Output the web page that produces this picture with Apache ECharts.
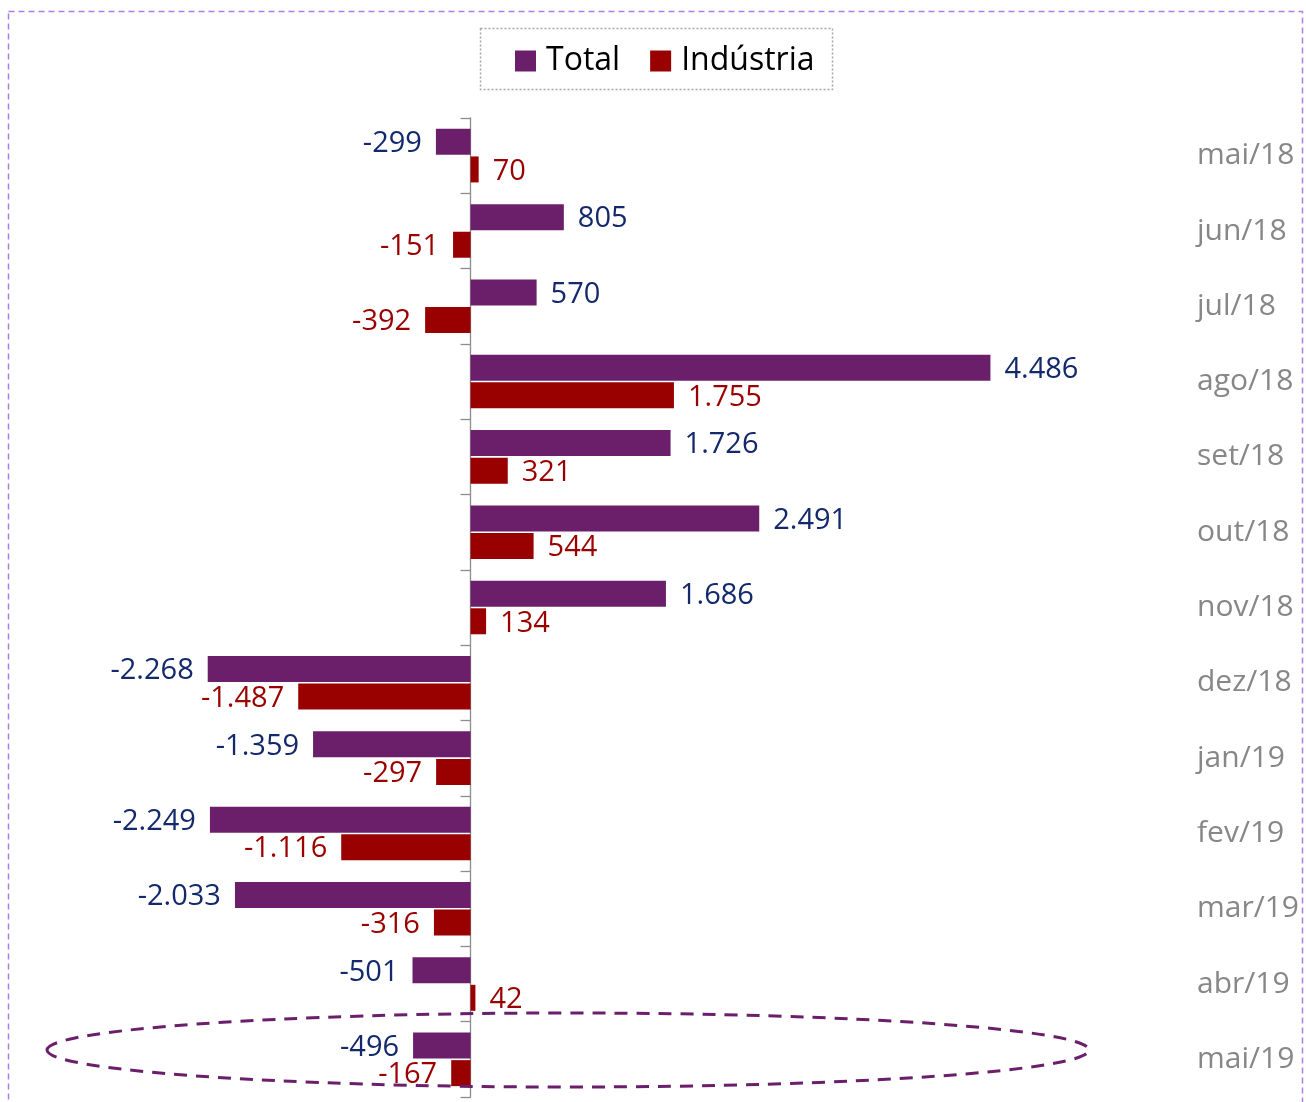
<!DOCTYPE html>
<html>
<head>
<meta charset="utf-8">
<script src="https://cdn.jsdelivr.net/npm/echarts@6/dist/echarts.min.js"></script>
<style>html,body{margin:0;padding:0;background:#fff;}#c{width:1306px;height:1102px;}</style>
</head>
<body>
<div id="c"></div>
<script>
const categories = ['mai/18','jun/18','jul/18','ago/18','set/18','out/18','nov/18','dez/18','jan/19','fev/19','mar/19','abr/19','mai/19'];
const totalValues = [-299, 805, 570, 4486, 1726, 2491, 1686, -2268, -1359, -2249, -2033, -501, -496];
const industriaValues = [70, -151, -392, 1755, 321, 544, 134, -1487, -297, -1116, -316, 42, -167];

const FONT = "'Open Sans', 'Noto Sans', sans-serif";
function fmt(v){
  const s = Math.abs(v).toString().replace(/\B(?=(\d{3})+(?!\d))/g, '.');
  return (v < 0 ? '-' : '') + s;
}
function toItems(arr){
  return arr.map(v => ({value: v, label: {position: v < 0 ? 'left' : 'right'}}));
}

const chart = echarts.init(document.getElementById('c'));
chart.setOption({
  animation: false,
  backgroundColor: '#ffffff',
  grid: {left: 7, right: 256, top: 118, bottom: 5, containLabel: false},
  legend: {
    data: ['Total', 'Indústria'],
    left: 510, top: 40,
    itemWidth: 21, itemHeight: 21, itemGap: 30,
    icon: 'rect',
    textStyle: {fontFamily: FONT, fontSize: 32, color: '#000', padding: [0, 0, 0, 5]}
  },
  xAxis: {type: 'value', min: -4000, max: 5000, show: false, splitLine: {show: false}},
  yAxis: [
    {
      type: 'category', data: categories, inverse: true,
      axisLine: {show: true, onZero: true, lineStyle: {color: '#8c8c8c', width: 1.3}},
      axisTick: {show: true, length: 10, lineStyle: {color: '#8c8c8c', width: 1.3}},
      axisLabel: {show: false}
    },
    {
      type: 'category', data: categories, inverse: true, position: 'right', offset: 139,
      axisLine: {show: false}, axisTick: {show: false},
      axisLabel: {show: true, color: '#878787', fontFamily: FONT, fontSize: 30, margin: 8, padding: [4, 0, 0, 0]}
    }
  ],
  series: [
    {
      name: 'Total', type: 'bar', yAxisIndex: 0, data: toItems(totalValues),
      barWidth: 26, barGap: '6%',
      itemStyle: {color: '#6b1f6b'},
      label: {show: true, distance: 14, offset: [0, 2], color: '#13296b', fontFamily: FONT, fontSize: 29, formatter: p => fmt(p.value)}
    },
    {
      name: 'Indústria', type: 'bar', yAxisIndex: 0, data: toItems(industriaValues),
      barWidth: 26,
      itemStyle: {color: '#990000'},
      label: {show: true, distance: 14, offset: [0, 2], color: '#9a0000', fontFamily: FONT, fontSize: 29, formatter: p => fmt(p.value)}
    }
  ],
  graphic: [
    {type: 'rect', silent: true, shape: {x: 8.5, y: 11.5, width: 1294, height: 1110},
     style: {fill: 'none', stroke: '#b07de6', lineWidth: 1.5, lineDash: [6, 4]}},
    {type: 'rect', silent: true, shape: {x: 480.5, y: 28.5, width: 352, height: 61},
     style: {fill: 'none', stroke: '#a6a6a6', lineWidth: 1.5, lineDash: [2, 2]}},
    {type: 'ellipse', silent: true, z: 100, shape: {cx: 568, cy: 1050, rx: 521, ry: 37},
     style: {fill: 'none', stroke: '#6b1f6b', lineWidth: 3, lineDash: [13, 9]}}
  ]
});
</script>
</body>
</html>
